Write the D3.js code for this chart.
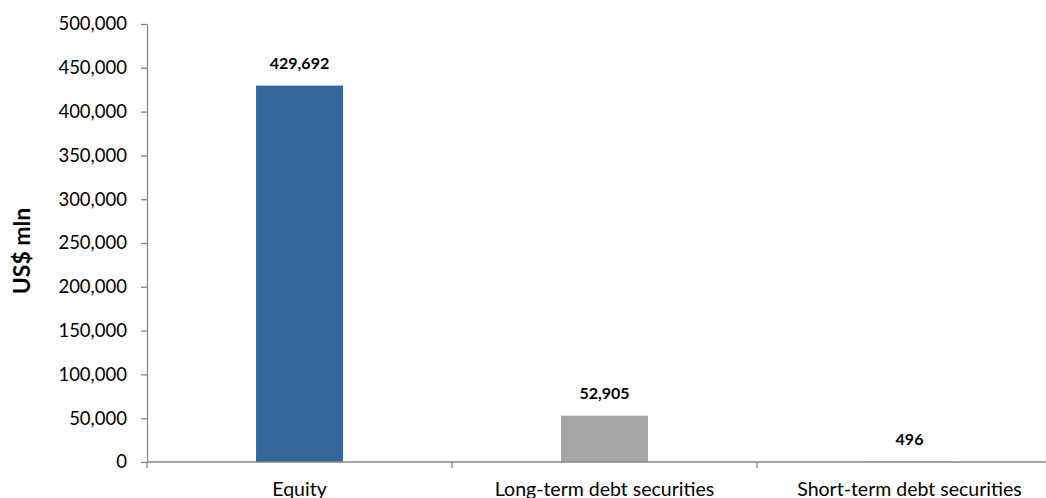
<!DOCTYPE html>
<html>
<head>
<meta charset="utf-8">
<script src="https://cdn.jsdelivr.net/npm/d3@7"></script>
<style>
  html, body { margin: 0; padding: 0; background: #fff; }
  svg { display: block; font-family: Lato, "Open Sans", "Liberation Sans", sans-serif; }
</style>
</head>
<body>
<svg id="chart" width="1046" height="498"></svg>
<script>
// Portfolio investment by instrument, US$ million
const categories = ["Equity", "Long-term debt securities", "Short-term debt securities"];
const values = [429692, 52905, 496];
const barColors = ["#336699", "#A6A6A6", "#A6A6A6"];
const yTicks = [0, 50000, 100000, 150000, 200000, 250000, 300000, 350000, 400000, 450000, 500000];
const yTitle = "US$ mln";

(function () {
  const svg = d3.select("#chart");
  const plotLeft = 147, plotRight = 1062, plotTop = 24, plotBottom = 462;
  const axisColor = "#868686";

  const x = d3.scaleBand().domain(categories).range([plotLeft, plotRight]).paddingInner(0).paddingOuter(0);
  const y = d3.scaleLinear().domain([0, 500000]).range([plotBottom, plotTop]);
  const fmt = d3.format(",");
  const barW = x.bandwidth() * 0.285;

  // bars
  svg.append("g").selectAll("rect")
    .data(categories)
    .join("rect")
    .attr("x", d => x(d) + x.bandwidth() / 2 - barW / 2)
    .attr("y", (d, i) => y(values[i]))
    .attr("width", barW)
    .attr("height", (d, i) => plotBottom - y(values[i]))
    .attr("fill", (d, i) => barColors[i]);

  // value labels
  svg.append("g").selectAll("text")
    .data(categories)
    .join("text")
    .attr("x", d => x(d) + x.bandwidth() / 2)
    .attr("y", (d, i) => y(values[i]) - 17)
    .attr("text-anchor", "middle")
    .attr("font-size", 16)
    .attr("font-weight", "bold")
    .attr("fill", "#000")
    .text((d, i) => fmt(values[i]));

  // y axis
  const yAxis = svg.append("g")
    .attr("transform", `translate(${plotLeft},0)`)
    .call(d3.axisLeft(y).tickValues(yTicks).tickFormat(fmt).tickSize(6).tickSizeOuter(0).tickPadding(14));
  yAxis.select(".domain").attr("stroke", axisColor).attr("stroke-width", 1.3);
  yAxis.selectAll(".tick line").attr("stroke", axisColor).attr("stroke-width", 1.3);
  yAxis.selectAll(".tick text").attr("font-size", 18.5).attr("fill", "#000")
    .attr("font-family", "Lato, 'Open Sans', sans-serif");

  // x axis with category boundary ticks
  const xg = svg.append("g").attr("transform", `translate(0,${plotBottom})`);
  xg.append("line").attr("x1", plotLeft).attr("x2", plotRight).attr("stroke", axisColor).attr("stroke-width", 1.3);
  const bounds = categories.map(d => x(d)).concat([plotRight]);
  xg.selectAll("line.tk").data(bounds).join("line")
    .attr("class", "tk")
    .attr("x1", d => d).attr("x2", d => d)
    .attr("y1", 0).attr("y2", 6)
    .attr("stroke", axisColor).attr("stroke-width", 1.3);
  xg.selectAll("text").data(categories).join("text")
    .attr("x", d => x(d) + x.bandwidth() / 2)
    .attr("y", 33.5)
    .attr("text-anchor", "middle")
    .attr("font-size", 19.5)
    .attr("fill", "#000")
    .text(d => d);

  // y axis title
  svg.append("text")
    .attr("transform", `translate(30,251) rotate(-90)`)
    .attr("text-anchor", "middle")
    .attr("font-size", 23)
    .attr("font-weight", "bold")
    .attr("fill", "#000")
    .text(yTitle);
})();
</script>
</body>
</html>
